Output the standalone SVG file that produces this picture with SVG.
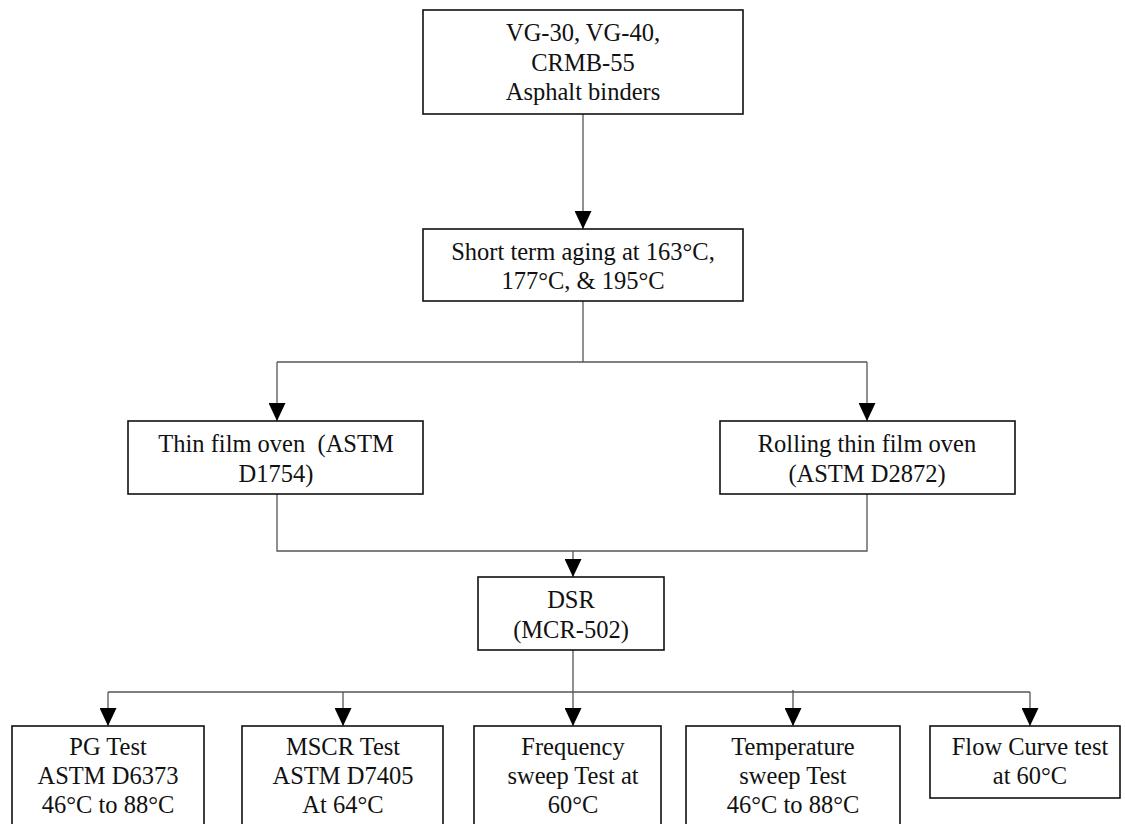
<svg xmlns="http://www.w3.org/2000/svg" width="1125" height="824" viewBox="0 0 1125 824">
<style>
.box{fill:#fff;stroke:#111;stroke-width:1.6}
.t{font-family:'Times New Roman','Liberation Serif',Tinos,'DejaVu Serif',serif;font-size:24.5px;fill:#111;text-anchor:middle}
.c{fill:none;stroke:#555;stroke-width:1.3}
</style>
<defs>
<marker id="ah" markerUnits="userSpaceOnUse" markerWidth="18" markerHeight="17" refX="18" refY="8.5" orient="auto" viewBox="0 0 18 17">
<path d="M0,0 L18,8.5 L0,17 z" fill="#000"/>
</marker>
</defs>
<rect width="1125" height="824" fill="#fff"/>
<g id="connectors">
<line class="c" x1="583" y1="114" x2="583" y2="229" marker-end="url(#ah)"/>
<polyline class="c" points="583,301 583,362"/>
<polyline class="c" points="277,362 867,362"/>
<line class="c" x1="277" y1="362" x2="277" y2="421" marker-end="url(#ah)"/>
<line class="c" x1="867" y1="362" x2="867" y2="421" marker-end="url(#ah)"/>
<polyline class="c" points="277,494 277,551 867,551 867,494"/>
<line class="c" x1="573" y1="551" x2="573" y2="577" marker-end="url(#ah)"/>
<line class="c" x1="573" y1="650" x2="573" y2="726" marker-end="url(#ah)"/>
<polyline class="c" points="108,692 1030,692"/>
<line class="c" x1="108" y1="692" x2="108" y2="726" marker-end="url(#ah)"/>
<line class="c" x1="343" y1="692" x2="343" y2="726" marker-end="url(#ah)"/>
<line class="c" x1="793" y1="690" x2="793" y2="726" marker-end="url(#ah)"/>
<line class="c" x1="1030" y1="692" x2="1030" y2="726" marker-end="url(#ah)"/>
</g>
<g id="binders">
<rect class="box" x="423" y="10" width="320" height="104"/>
<text class="t" x="583" y="41">VG-30, VG-40,</text>
<text class="t" x="583" y="71">CRMB-55</text>
<text class="t" x="583" y="100">Asphalt binders</text>
</g>
<g id="aging">
<rect class="box" x="423" y="229" width="320" height="72"/>
<text class="t" x="583" y="260">Short term aging at 163°C,</text>
<text class="t" x="583" y="289">177°C, &amp; 195°C</text>
</g>
<g id="tfo">
<rect class="box" x="128" y="421" width="295" height="73"/>
<text class="t" x="276" y="452" xml:space="preserve">Thin film oven  (ASTM</text>
<text class="t" x="276" y="482">D1754)</text>
</g>
<g id="rtfo">
<rect class="box" x="720" y="421" width="295" height="73"/>
<text class="t" x="867" y="452">Rolling thin film oven</text>
<text class="t" x="867" y="482">(ASTM D2872)</text>
</g>
<g id="dsr">
<rect class="box" x="478" y="577" width="186" height="73"/>
<text class="t" x="571" y="608">DSR</text>
<text class="t" x="571" y="638">(MCR-502)</text>
</g>
<g id="pg">
<rect class="box" x="12" y="726" width="192" height="110"/>
<text class="t" x="108" y="755">PG Test</text>
<text class="t" x="108" y="784">ASTM D6373</text>
<text class="t" x="108" y="813">46°C to 88°C</text>
</g>
<g id="mscr">
<rect class="box" x="242" y="726" width="201" height="110"/>
<text class="t" x="343" y="755">MSCR Test</text>
<text class="t" x="343" y="784">ASTM D7405</text>
<text class="t" x="343" y="813">At 64°C</text>
</g>
<g id="freq">
<rect class="box" x="474" y="726" width="187" height="110"/>
<text class="t" x="573" y="755">Frequency</text>
<text class="t" x="573" y="784">sweep Test at</text>
<text class="t" x="573" y="813">60°C</text>
</g>
<g id="temp">
<rect class="box" x="686" y="726" width="214" height="110"/>
<text class="t" x="793" y="755">Temperature</text>
<text class="t" x="793" y="784">sweep Test</text>
<text class="t" x="793" y="813">46°C to 88°C</text>
</g>
<g id="flow">
<rect class="box" x="930" y="726" width="190" height="72"/>
<text class="t" x="1030" y="755">Flow Curve test</text>
<text class="t" x="1030" y="784">at 60°C</text>
</g>
</svg>
